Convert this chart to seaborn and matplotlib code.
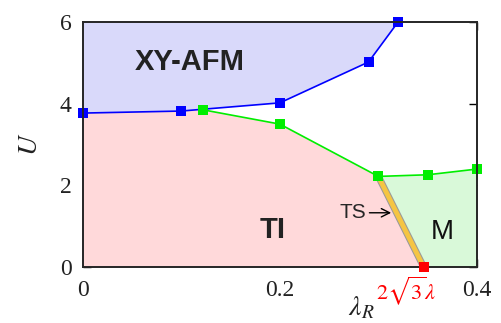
import matplotlib
matplotlib.use("Agg")
import matplotlib.pyplot as plt
import matplotlib.patheffects as pe
import pandas as pd
import seaborn as sns

# phase boundaries
afm_lam = [0.0, 0.10, 0.20, 0.29, 0.32]      # XY-AFM boundary (blue)
afm_u = [3.77, 3.82, 4.02, 5.02, 6.0]
met_lam = [0.122, 0.20, 0.30, 0.35, 0.40]    # metal boundary (green)
met_u = [3.85, 3.50, 2.22, 2.26, 2.40]
ts_lam = 0.346                                # 2*sqrt(3)*lambda
x_ticks = [0, 0.2, 0.4]
x_labels = ["0", "0.2", "0.4"]
y_ticks = [0, 2, 4, 6]

sns.set_style("ticks")
plt.rcParams['font.family'] = ['Liberation Serif', 'DejaVu Serif']
plt.rcParams['mathtext.fontset'] = 'stix'

fig = plt.figure(figsize=(5.02, 3.23), dpi=100)
ax = fig.add_axes([0.165, 0.173, 0.785, 0.759])

# regions
ax.fill([0.0] + afm_lam + [afm_lam[-1]], [6.0] + afm_u + [6.0],
        color='#d9d9fa', lw=0, zorder=1)
ti_x = [0.0] + afm_lam[:2] + met_lam[:3] + [ts_lam]
ti_y = [0.0] + afm_u[:2] + met_u[:3] + [0.0]
ax.fill(ti_x, ti_y, color='#ffd9da', lw=0, zorder=1)
m_x = met_lam[2:] + [0.4, ts_lam]
m_y = met_u[2:] + [0.0, 0.0]
ax.fill(m_x, m_y, color='#d9f9d9', lw=0, zorder=1)

# topological semimetal strip
ax.plot([met_lam[2], ts_lam], [met_u[2], 0.0], color='#f5c542', lw=3.5,
        solid_capstyle='butt', zorder=3,
        path_effects=[pe.Stroke(linewidth=5, foreground='#999999'), pe.Normal()])

afm = pd.DataFrame({'lam': afm_lam, 'U': afm_u})
met = pd.DataFrame({'lam': met_lam, 'U': met_u})
sns.lineplot(data=afm, x='lam', y='U', ax=ax, color='#0000ff', lw=1.2,
             marker='s', markersize=7, markeredgewidth=0, sort=False,
             estimator=None, zorder=4)
sns.lineplot(data=met, x='lam', y='U', ax=ax, color='#00ee00', lw=1.2,
             marker='s', markersize=7, markeredgewidth=0, sort=False,
             estimator=None, zorder=4)
for l in ax.lines:
    l.set_clip_on(False)
ax.plot([ts_lam], [0.0], marker='s', color='#ff0000', markersize=7,
        markeredgewidth=0, clip_on=False, zorder=6)

ax.set_xlim(0, 0.4)
ax.set_ylim(0, 6)
ax.set_xticks(x_ticks)
ax.set_xticklabels(x_labels)
ax.set_yticks(y_ticks)
ax.tick_params(direction='in', length=6, width=1, top=True, right=True,
               labelsize=17, color='black', labelcolor='#222222')
ax.tick_params(axis='x', pad=9)
ax.tick_params(axis='y', pad=8)
for s in ax.spines.values():
    s.set_linewidth(1.4)
    s.set_zorder(5)
ax.set_xlabel('')
ax.set_ylabel(r'$U$', fontsize=20, labelpad=12, color='#222222')
ax.text(0.283, -1.0, r'$\lambda_R$', fontsize=20, ha='center', va='center',
        color='#222222')
ax.text(0.328, -0.58, r'$2\sqrt{3}\lambda$', fontsize=16, color='#ff0000',
        ha='center', va='center')

sans = ['Liberation Sans', 'DejaVu Sans']
ax.text(0.109, 5.02, 'XY-AFM', family=sans, fontsize=21, fontweight='bold',
        ha='center', va='center', color='#222222', zorder=7)
ax.text(0.193, 0.91, 'TI', family=sans, fontsize=21, fontweight='bold',
        ha='center', va='center', color='#222222', zorder=7)
ax.text(0.365, 0.87, 'M', family=sans, fontsize=20,
        ha='center', va='center', color='#111111', zorder=7)
ax.annotate('TS', xy=(0.313, 1.33), xytext=(0.274, 1.33), family=sans,
            fontsize=15, ha='center', va='center', zorder=7,
            arrowprops=dict(arrowstyle='->', color='black', lw=1,
                            shrinkA=0, shrinkB=0))

fig.savefig('out.png', dpi=100)
